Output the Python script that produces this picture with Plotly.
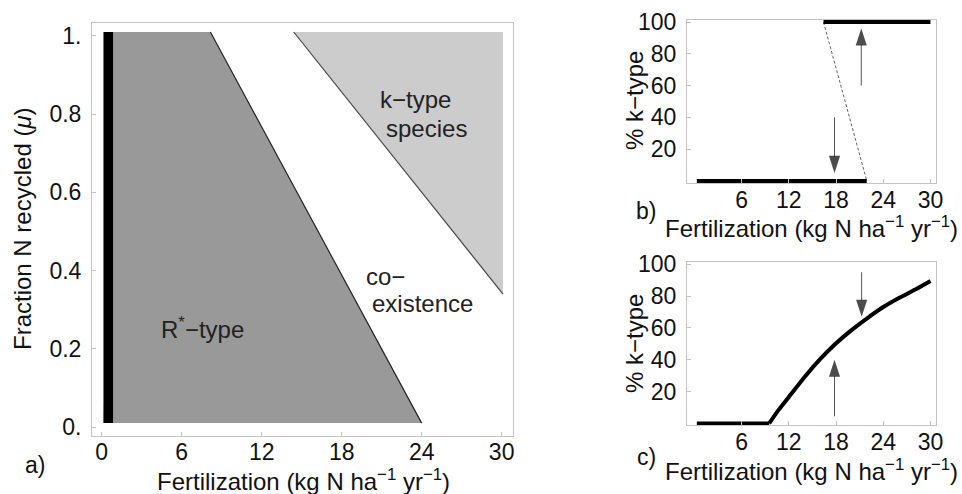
import plotly.graph_objects as go

W, H = 962, 494
FONT = "Liberation Sans, Arial, Helvetica, sans-serif"

# ---------------- data ----------------
# Panel a: regions in (fertilization, mu) space
mu_range = [0.01, 1.01]                 # vertical extent of the regions
extinct_band_x = [0.13, 0.85]           # black band at very low fertilization
rstar_boundary_x = [24.0, 8.15]         # R*-type / coexistence boundary at mu = 0.01, 1.01
ktype_boundary_x = [30.1, 14.4]         # coexistence / k-type boundary
ktype_boundary_mu = [0.34, 1.01]
fert_max = 30.1

# Panel b: bistable case
b_low_x, b_low_y = [0.3, 21.9], [0, 0]
b_high_x, b_high_y = [16.4, 30.0], [100, 100]
b_unstable_x, b_unstable_y = [16.4, 21.9], [100, 0]
b_arrow_down = dict(x=17.8, y0=40, y1=5)
b_arrow_up = dict(x=21.2, y0=60, y1=96)

# Panel c: stable coexistence curve
c_flat_x, c_flat_y = [0.3, 9.5], [0, 0]
c_x = [9.5, 10.6, 11.9, 14.0, 16.0, 17.9, 19.8, 21.9, 24.0, 26.1, 28.2, 30.0]
c_y = [0, 7.9, 16.0, 29.2, 40.5, 49.9, 58.0, 65.9, 73.1, 79.1, 84.4, 89.4]
c_arrow_down = dict(x=21.25, y0=95, y1=67)
c_arrow_up = dict(x=17.8, y0=4.5, y1=40)

a_xticks = [0, 6, 12, 18, 24, 30]
a_yticks = [0, 0.2, 0.4, 0.6, 0.8, 1.0]
a_yticktext = ["0.", "0.2", "0.4", "0.6", "0.8", "1."]
bc_xticks = [6, 12, 18, 24, 30]
bc_yticks = [20, 40, 60, 80, 100]

xtitle = "Fertilization (kg N ha<sup>\u22121</sup> yr<sup>\u22121</sup>)"


def px(x):
    return x / W


def py(y):
    return 1 - y / H


fig = go.Figure()

# ---- panel a ----
fig.add_trace(go.Scatter(
    x=[extinct_band_x[0], extinct_band_x[1], rstar_boundary_x[0], rstar_boundary_x[1], extinct_band_x[1]],
    y=[mu_range[0], mu_range[0], mu_range[0], mu_range[1], mu_range[1]],
    fill="toself", fillcolor="#999999", line=dict(width=0), mode="lines",
    xaxis="x", yaxis="y", hoverinfo="skip"))
fig.add_trace(go.Scatter(
    x=[ktype_boundary_x[1], fert_max, fert_max],
    y=[mu_range[1], mu_range[1], ktype_boundary_mu[0]],
    fill="toself", fillcolor="#cccccc", line=dict(width=0), mode="lines",
    xaxis="x", yaxis="y", hoverinfo="skip"))
fig.add_trace(go.Scatter(
    x=[extinct_band_x[0], extinct_band_x[1], extinct_band_x[1], extinct_band_x[0]],
    y=[mu_range[0], mu_range[0], mu_range[1], mu_range[1]],
    fill="toself", fillcolor="black", line=dict(width=0), mode="lines",
    xaxis="x", yaxis="y", hoverinfo="skip"))
fig.add_trace(go.Scatter(
    x=rstar_boundary_x, y=mu_range, mode="lines",
    line=dict(color="#222222", width=1.2), xaxis="x", yaxis="y", hoverinfo="skip"))
fig.add_trace(go.Scatter(
    x=ktype_boundary_x, y=ktype_boundary_mu,
    mode="lines", line=dict(color="#444444", width=1.2), xaxis="x", yaxis="y", hoverinfo="skip"))

# ---- panel b ----
fig.add_trace(go.Scatter(x=b_unstable_x, y=b_unstable_y, mode="lines",
                         line=dict(color="#666666", width=1, dash="3px,2px"),
                         xaxis="x2", yaxis="y2", hoverinfo="skip"))
fig.add_trace(go.Scatter(x=b_low_x, y=b_low_y, mode="lines",
                         line=dict(color="black", width=4), xaxis="x2", yaxis="y2", hoverinfo="skip"))
fig.add_trace(go.Scatter(x=b_high_x, y=b_high_y, mode="lines",
                         line=dict(color="black", width=4), xaxis="x2", yaxis="y2", hoverinfo="skip"))

# ---- panel c ----
fig.add_trace(go.Scatter(x=c_flat_x, y=c_flat_y, mode="lines",
                         line=dict(color="black", width=4), xaxis="x3", yaxis="y3", hoverinfo="skip"))
fig.add_trace(go.Scatter(x=c_x, y=c_y, mode="lines",
                         line=dict(color="black", width=4, shape="spline", smoothing=0.6),
                         xaxis="x3", yaxis="y3", hoverinfo="skip"))


def add_arrow(a, xa, ya):
    fig.add_trace(go.Scatter(
        x=[a["x"], a["x"]], y=[a["y0"], a["y1"]], mode="lines+markers",
        line=dict(color="#555555", width=1),
        marker=dict(symbol="arrow", size=[0, 18], angleref="previous",
                    color="black", line=dict(width=0)),
        xaxis=xa, yaxis=ya, hoverinfo="skip"))


add_arrow(b_arrow_down, "x2", "y2")
add_arrow(b_arrow_up, "x2", "y2")
add_arrow(c_arrow_down, "x3", "y3")
add_arrow(c_arrow_up, "x3", "y3")

frame = dict(showline=True, linecolor="#c4c4c4", linewidth=1, mirror=True,
             showgrid=False, zeroline=False, ticks="inside", ticklen=4,
             tickcolor="#c4c4c4", automargin=False,
             tickfont=dict(family=FONT, size=23, color="#111111"))

fig.update_layout(
    width=W, height=H, margin=dict(l=0, r=0, t=0, b=0, autoexpand=False),
    paper_bgcolor="white", plot_bgcolor="white", showlegend=False,
    xaxis=dict(frame, domain=[px(92), px(513)], range=[-0.73, 30.85], anchor="y",
               tickvals=a_xticks, ticklabelstandoff=-5),
    yaxis=dict(frame, domain=[py(436), py(23)], range=[-0.023, 1.033], anchor="x",
               tickvals=a_yticks, ticktext=a_yticktext, ticklabelstandoff=5),
    xaxis2=dict(frame, domain=[px(687), px(936)], range=[-0.95, 30.7], anchor="y2",
                tickvals=bc_xticks, ticklabelstandoff=-4),
    yaxis2=dict(frame, domain=[py(183), py(20)], range=[-1.3, 101.3], anchor="x2",
                tickvals=bc_yticks, ticklabelstandoff=5),
    xaxis3=dict(frame, domain=[px(687), px(936)], range=[-0.95, 30.7], anchor="y3",
                tickvals=bc_xticks, ticklabelstandoff=-4),
    yaxis3=dict(frame, domain=[py(425), py(262)], range=[-1.0, 101.4], anchor="x3",
                tickvals=bc_yticks, ticklabelstandoff=5),
)

ann = []


def label(text, x, y, size=24, angle=0, color="#111111"):
    ann.append(dict(text=text, x=px(x), y=py(y), xref="paper", yref="paper",
                    showarrow=False, xanchor="center", yanchor="middle",
                    textangle=angle, font=dict(family=FONT, size=size, color=color)))


# panel a texts
label("Fraction N recycled (<i>\u03bc</i>)", 22, 229, angle=-90)
label(xtitle, 303, 480)
label("a)", 35, 465, size=23)
label("k\u2212type", 415, 99, color="#222222")
label("species", 426, 128, color="#222222")
label("co\u2212", 385, 276, color="#222222")
label("existence", 422, 303, color="#222222")
label("R<sup>*</sup>\u2212type", 202, 328, color="#222222")

# panel b texts
label("% k\u2212type", 634, 101, angle=-90)
label(xtitle, 811, 227)
label("b)", 646, 211, size=23)

# panel c texts
label("% k\u2212type", 634, 344, angle=-90)
label(xtitle, 811, 470)
label("c)", 646, 457, size=23)

fig.update_layout(annotations=ann)
fig.write_html(
    "out.html",
    config={"displayModeBar": False},
    post_script="document.body.style.margin='0px';document.body.style.overflow='hidden';",
)
